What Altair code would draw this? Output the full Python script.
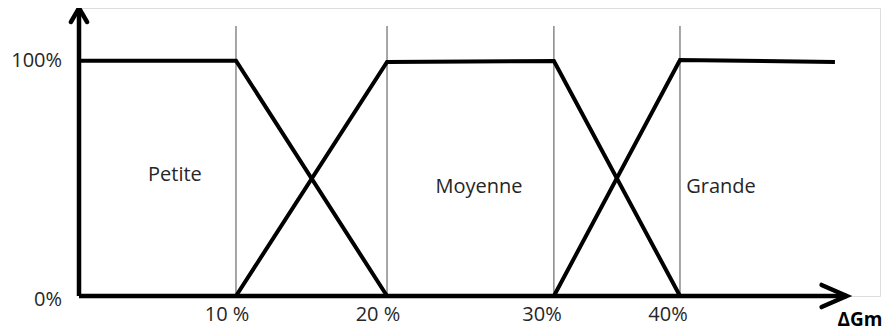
import altair as alt
import pandas as pd

# --- data (x in "%" units, y in % membership) ---
petite_x = [0.0, 10.0, 19.62]
petite_y = [100.1, 100.1, 0.0]
moyenne_x = [10.0, 19.62, 30.25, 38.28]
moyenne_y = [0.0, 99.6, 100.0, 0.0]
grande_x = [30.25, 38.28, 48.15]
grande_y = [0.0, 100.4, 99.6]

grid_x = [10.0, 19.62, 30.25, 38.28]
grid_top = 114.9

tick_labels = ["10 %", "20 %", "30%", "40%"]
tick_label_x = [9.43, 19.04, 29.49, 37.52]
tick_label_y = -8.1

y_labels = ["100%", "0%"]
y_label_y = [100.0, -1.5]
y_label_x = -1.08

cat_labels = ["Petite", "Moyenne", "Grande"]
cat_x = [6.11, 25.48, 40.89]
cat_y = [51.5, 46.4, 46.4]

axis_title = "ΔGm"
axis_title_x = 49.75
axis_title_y = -12.9

x_axis_end = 48.9
y_axis_end = 122.5
arrow_x_pts_x = [47.3, 48.9, 47.3]
arrow_x_pts_y = [4.7, 0.0, -4.7]
arrow_y_pts_x = [-0.51, 0.0, 0.51]
arrow_y_pts_y = [116.6, 122.5, 116.6]

X_DOMAIN = [0, 51.02]
Y_DOMAIN = [0, 122.55]
TEXT_COLOR = "#262626"
FONT = "Open Sans"


def X(field="x"):
    return alt.X(f"{field}:Q", scale=alt.Scale(domain=X_DOMAIN, nice=False, zero=False), axis=None)


def Y(field="y"):
    return alt.Y(f"{field}:Q", scale=alt.Scale(domain=Y_DOMAIN, nice=False, zero=False), axis=None)


rows = []
for name, xs, ys in [("Petite", petite_x, petite_y), ("Moyenne", moyenne_x, moyenne_y), ("Grande", grande_x, grande_y)]:
    for i, (a, b) in enumerate(zip(xs, ys)):
        rows.append({"series": name, "order": i, "x": a, "y": b})
lines_df = pd.DataFrame(rows)

arrow_rows = []
for name, xs, ys in [("ax", arrow_x_pts_x, arrow_x_pts_y), ("ay", arrow_y_pts_x, arrow_y_pts_y)]:
    for i, (a, b) in enumerate(zip(xs, ys)):
        arrow_rows.append({"series": name, "order": i, "x": a, "y": b})
arrows_df = pd.DataFrame(arrow_rows)

grid_df = pd.DataFrame({"x": grid_x, "y": [0.0] * len(grid_x), "y2": [grid_top] * len(grid_x)})
axes_df = pd.DataFrame({"x": [0.0, 0.0], "x2": [x_axis_end, 0.0], "y": [0.0, 0.0], "y2": [0.0, y_axis_end]})
ticks_df = pd.DataFrame({"x": tick_label_x, "y": [tick_label_y] * len(tick_labels), "t": tick_labels})
ylab_df = pd.DataFrame({"x": [y_label_x] * len(y_labels), "y": y_label_y, "t": y_labels})
cat_df = pd.DataFrame({"x": cat_x, "y": cat_y, "t": cat_labels})
title_df = pd.DataFrame({"x": [axis_title_x], "y": [axis_title_y], "t": [axis_title]})

grid = alt.Chart(grid_df).mark_rule(color="#4d4d4d", strokeWidth=1).encode(x=X(), y=Y(), y2="y2:Q")

axes = alt.Chart(axes_df).mark_rule(color="black", strokeWidth=4.5).encode(
    x=X(), x2="x2:Q", y=Y(), y2="y2:Q"
)

arrows = alt.Chart(arrows_df).mark_line(color="black", strokeWidth=4.5, strokeCap="round", strokeJoin="miter").encode(
    x=X(), y=Y(), detail="series:N", order="order:Q"
)

lines = alt.Chart(lines_df).mark_line(color="black", strokeWidth=4, strokeJoin="miter").encode(
    x=X(), y=Y(), detail="series:N", order="order:Q"
)

ticks = alt.Chart(ticks_df).mark_text(font=FONT, fontSize=20, color=TEXT_COLOR, align="center", baseline="middle").encode(
    x=X(), y=Y(), text="t:N"
)
ylabs = alt.Chart(ylab_df).mark_text(font=FONT, fontSize=20, color=TEXT_COLOR, align="right", baseline="middle").encode(
    x=X(), y=Y(), text="t:N"
)
cats = alt.Chart(cat_df).mark_text(font=FONT, fontSize=20, color=TEXT_COLOR, align="center", baseline="middle").encode(
    x=X(), y=Y(), text="t:N"
)
title = alt.Chart(title_df).mark_text(font=FONT, fontSize=19, fontWeight="bold", color="black", align="center", baseline="alphabetic").encode(
    x=X(), y=Y(), text="t:N"
)

chart = alt.layer(grid, lines, axes, arrows, ticks, ylabs, cats, title).properties(
    width=801,
    height=288,
    padding={"left": 71, "top": 0, "right": 2, "bottom": 45},
    autosize=alt.AutoSizeParams(type="none"),
).configure_view(stroke=None).configure(background="white")

chart.save("out.html", embed_options={"renderer": "svg", "actions": False})
